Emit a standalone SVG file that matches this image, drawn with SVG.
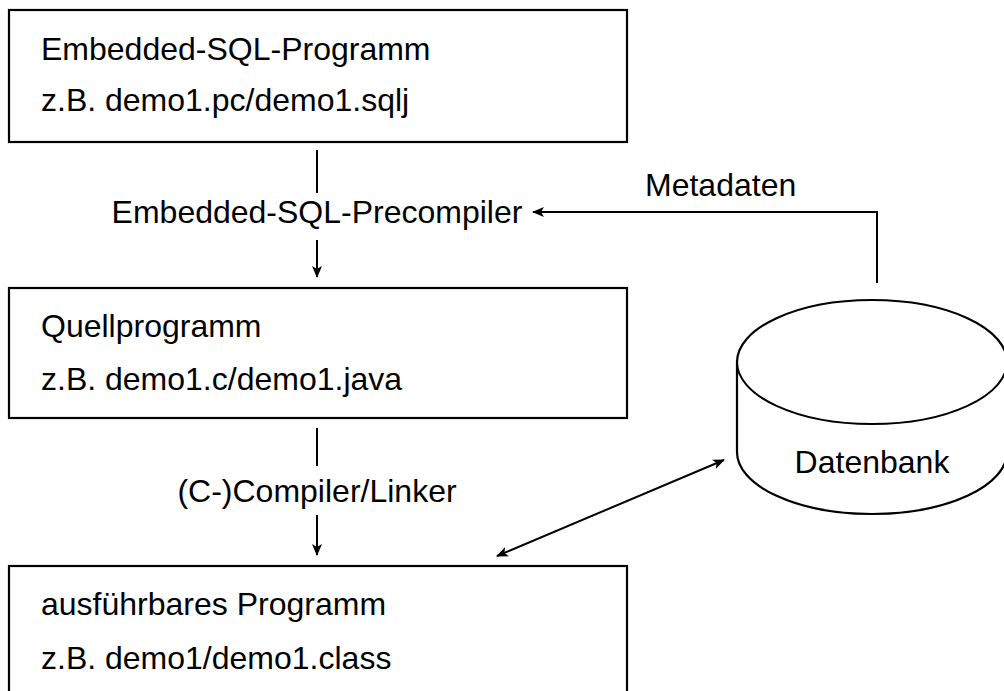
<svg xmlns="http://www.w3.org/2000/svg" width="1004" height="691" viewBox="0 0 1004 691">
<style>
text{font-family:"Liberation Sans",Arial,sans-serif;font-size:32px;fill:#000}
.box{fill:#fff;stroke:#000;stroke-width:2.2}
.ln{fill:none;stroke:#000;stroke-width:2}
.c{text-anchor:middle}
</style>
<defs>
<marker id="ah" viewBox="0 0 12 10" refX="11" refY="5" markerWidth="12" markerHeight="10" markerUnits="userSpaceOnUse" orient="auto-start-reverse">
<path d="M0,0 L12,5 L0,10 L3,5 Z" fill="#000"/>
</marker>
</defs>
<rect width="1004" height="691" fill="#fff"/>
<g id="connectors">
<line class="ln" x1="317" y1="150" x2="317" y2="193"/>
<line class="ln" x1="317" y1="240" x2="317" y2="277" marker-end="url(#ah)"/>
<line class="ln" x1="317" y1="428" x2="317" y2="466"/>
<line class="ln" x1="317" y1="515" x2="317" y2="555" marker-end="url(#ah)"/>
<polyline class="ln" points="877,283 877,212 533,212" marker-end="url(#ah)"/>
<line class="ln" x1="497" y1="556" x2="724" y2="460" marker-start="url(#ah)" marker-end="url(#ah)"/>
<text class="c" x="317" y="223">Embedded-SQL-Precompiler</text>
<text class="c" x="317" y="502">(C-)Compiler/Linker</text>
<text x="645" y="196">Metadaten</text>
</g>
<g id="node-embedded">
<rect class="box" x="9" y="10" width="618" height="132"/>
<text x="41" y="60">Embedded-SQL-Programm</text>
<text x="41" y="111">z.B. demo1.pc/demo1.sqlj</text>
</g>
<g id="node-quell">
<rect class="box" x="9" y="288" width="618" height="130"/>
<text x="41" y="337">Quellprogramm</text>
<text x="41" y="390">z.B. demo1.c/demo1.java</text>
</g>
<g id="node-ausfuehrbar">
<rect class="box" x="9" y="566" width="618" height="140"/>
<text x="41" y="615">ausführbares Programm</text>
<text x="41" y="669">z.B. demo1/demo1.class</text>
</g>
<g id="node-datenbank">
<path class="box" d="M737,362 L737,452 A135,62 0 0 0 1007,452 L1007,362 A135,62 0 0 0 737,362 Z"/>
<path class="ln" d="M737,362 A135,62 0 0 0 1007,362"/>
<text class="c" x="872" y="473">Datenbank</text>
</g>
</svg>
